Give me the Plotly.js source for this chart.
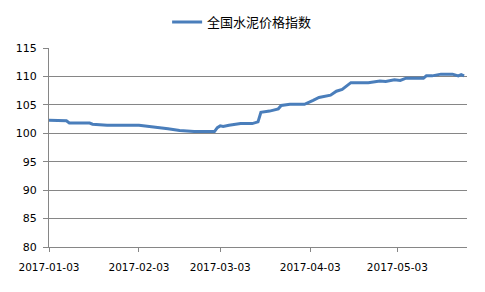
<!DOCTYPE html>
<html>
<head>
<meta charset="utf-8">
<script src="https://cdn.plot.ly/plotly-3.0.1.min.js"></script>
<style>html,body{margin:0;padding:0;background:#fff;}#chart{width:485px;height:292px;}</style>
</head>
<body>
<div id="chart"></div>
<script>
var seriesName = '全国水泥价格指数';
var dates = ['2017-01-03','2017-01-06','2017-01-07','2017-01-09','2017-01-10','2017-01-17','2017-01-18','2017-01-22','2017-01-23','2017-02-03',
  '2017-02-07','2017-02-09','2017-02-13','2017-02-17','2017-02-22','2017-03-01','2017-03-02','2017-03-03','2017-03-04','2017-03-06',
  '2017-03-10','2017-03-14','2017-03-16','2017-03-17','2017-03-20','2017-03-23','2017-03-24','2017-03-27','2017-04-01','2017-04-04',
  '2017-04-06','2017-04-10','2017-04-12','2017-04-14','2017-04-17','2017-04-23','2017-04-26','2017-04-27','2017-04-29','2017-05-02',
  '2017-05-04','2017-05-06','2017-05-12','2017-05-13','2017-05-15','2017-05-18','2017-05-22','2017-05-24','2017-05-25','2017-05-26'];
var values = [102.3,102.3,102.2,102.2,101.8,101.8,101.6,101.5,101.4,101.4,
  101.2,101.0,100.8,100.5,100.3,100.3,101.0,101.3,101.2,101.4,
  101.7,101.7,102.0,103.7,103.9,104.3,104.9,105.1,105.1,105.8,
  106.3,106.7,107.4,107.7,108.9,108.9,109.1,109.2,109.1,109.4,
  109.3,109.7,109.7,110.1,110.1,110.4,110.4,110.1,110.3,110.1];
var tickDates = ['2017-01-03','2017-02-03','2017-03-03','2017-04-03','2017-05-03'];
var tickLabels = ['2017-01-03','2017-02-03','2017-03-03','2017-04-03','2017-05-03'];

var trace = {
  x: dates, y: values, type: 'scatter', mode: 'lines', name: seriesName,
  line: {color: '#4a7ebb', width: 3}
};
var layout = {
  width: 485, height: 292,
  margin: {l: 49, r: 18, t: 48, b: 45, autoexpand: false},
  paper_bgcolor: '#fff', plot_bgcolor: '#fff',
  font: {family: 'DejaVu Sans, sans-serif', size: 11, color: '#000'},
  showlegend: true,
  legend: {orientation: 'h', x: 0.462, xanchor: 'center', y: 1.13, yanchor: 'middle',
    font: {family: 'Noto Sans CJK SC, sans-serif', size: 13, color: '#000'}},
  xaxis: {
    type: 'date', range: ['2017-01-03', '2017-05-27'],
    tickmode: 'array', tickvals: tickDates, ticktext: tickLabels,
    showgrid: false, zeroline: false, showline: true, linecolor: '#868686', linewidth: 1,
    ticks: 'outside', ticklen: 4, tickcolor: '#868686', ticklabelstandoff: 6,
    tickfont: {size: 10.5}
  },
  yaxis: {
    range: [80, 115], dtick: 5, tick0: 80,
    showgrid: true, gridcolor: '#868686', gridwidth: 1,
    zeroline: false, showline: true, linecolor: '#868686', linewidth: 1,
    ticks: 'outside', ticklen: 5, tickcolor: '#868686', ticklabelstandoff: 4
  }
};
Plotly.newPlot('chart', [trace], layout, {staticPlot: true, displayModeBar: false});
</script>
</body>
</html>
